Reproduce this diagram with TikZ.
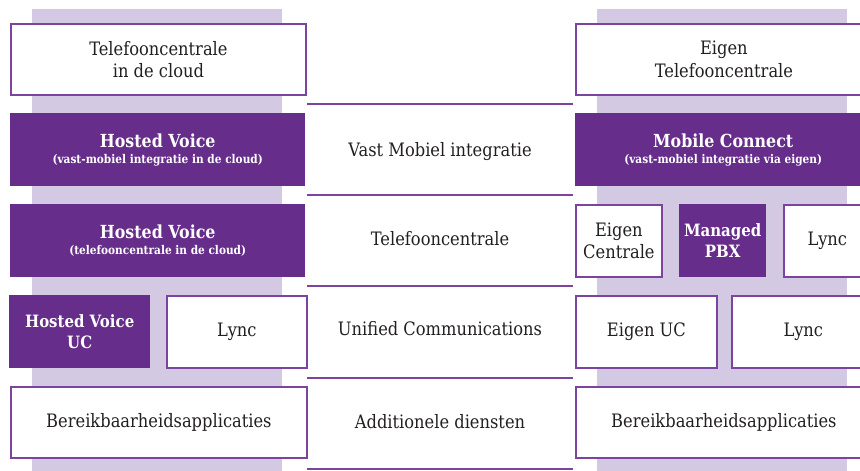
\documentclass[tikz,border=0pt]{standalone}
\usepackage{fontspec}
\setmainfont[FakeStretch=0.88]{DejaVu Serif}
\definecolor{kpnpurple}{HTML}{672D8B}
\definecolor{lineviolet}{HTML}{7B449F}
\definecolor{lavender}{HTML}{D3C9E2}
\definecolor{ink}{HTML}{231F20}
\tikzset{
  box/.style={rectangle, anchor=north west, inner sep=0pt, align=center},
  wbox/.style={box, draw=lineviolet, line width=1.8pt, fill=white, text=ink,
    font=\fontsize{18.5}{22.5}\selectfont},
  pbox/.style={box, fill=kpnpurple, text=white,
    font=\bfseries\fontsize{18}{21}\selectfont},
  midtext/.style={text=ink, anchor=base, font=\fontsize{18.5}{22}\selectfont},
  sepline/.style={draw=lineviolet, line width=1.8pt},
}
\newcommand{\subt}[1]{\\[-5pt]{\fontsize{12}{14}\selectfont #1}}
\begin{document}
\begin{tikzpicture}[x=1pt,y=-1pt]
\useasboundingbox (0,0) rectangle (860,471);
\clip (0,0) rectangle (860,471);
% shaded columns
\fill[lavender] (32,9) rectangle (282,471);
\fill[lavender] (597,9) rectangle (847,471);
% middle separators
\foreach \yy in {104,195,286,378,469}
  \draw[sepline] (307,\yy) -- (573,\yy);
% middle labels
\node[midtext] (m1) at (440,156) {Vast Mobiel integratie};
\node[midtext] (m2) at (440,245) {Telefooncentrale};
\node[midtext] (m3) at (440,335.5) {Unified Communications};
\node[midtext] (m4) at (440,428) {Additionele diensten};
% left column
\node[wbox, minimum width=295pt, minimum height=71pt] (l1) at (10,23) {Telefooncentrale\\in de cloud};
\node[pbox, minimum width=295pt, minimum height=73pt] (l2) at (10,113) {Hosted Voice\subt{(vast-mobiel integratie in de cloud)}};
\node[pbox, minimum width=295pt, minimum height=73pt] (l3) at (10,204) {Hosted Voice\subt{(telefooncentrale in de cloud)}};
\node[pbox, minimum width=141pt, minimum height=73pt, font=\bfseries\fontsize{17}{21}\selectfont] (l4a) at (9,295) {Hosted Voice\\UC};
\node[wbox, minimum width=140pt, minimum height=72pt] (l4b) at (166,295) {Lync};
\node[wbox, minimum width=296pt, minimum height=71pt] (l5) at (10,386) {Bereikbaarheidsapplicaties};
% right column
\node[wbox, minimum width=296pt, minimum height=71pt] (r1) at (575,23) {Eigen\\Telefooncentrale};
\node[pbox, minimum width=296pt, minimum height=73pt] (r2) at (575,113) {Mobile Connect\subt{(vast-mobiel integratie via eigen)}};
\node[wbox, minimum width=86pt, minimum height=72pt] (r3a) at (575,204) {Eigen\\Centrale};
\node[pbox, minimum width=87pt, minimum height=73pt, font=\bfseries\fontsize{17}{21}\selectfont] (r3b) at (679,204) {Managed\\PBX};
\node[wbox, minimum width=87pt, minimum height=72pt] (r3c) at (783,204) {Lync};
\node[wbox, minimum width=141pt, minimum height=72pt] (r4a) at (575,295) {Eigen UC};
\node[wbox, minimum width=143pt, minimum height=72pt] (r4b) at (731,295) {Lync};
\node[wbox, minimum width=296pt, minimum height=71pt] (r5) at (575,386) {Bereikbaarheidsapplicaties};
\end{tikzpicture}
\end{document}
